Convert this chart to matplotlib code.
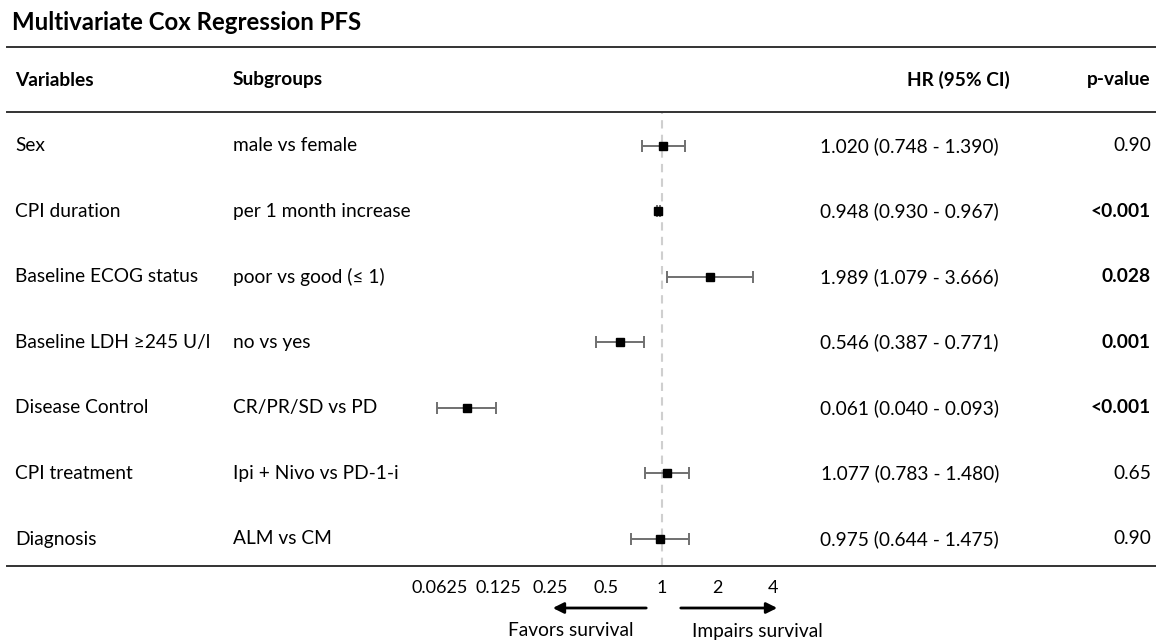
import matplotlib
matplotlib.use("Agg")
import matplotlib.pyplot as plt
from matplotlib import transforms

plt.rcParams['font.family'] = ['Lato', 'DejaVu Sans']

# data
variables = ["Sex", "CPI duration", "Baseline ECOG status", "Baseline LDH \u2265245 U/l",
             "Disease Control", "CPI treatment", "Diagnosis"]
subgroups = ["male vs female", "per 1 month increase", "poor vs good (\u2264 1)", "no vs yes",
             "CR/PR/SD vs PD", "Ipi + Nivo vs PD-1-i", "ALM vs CM"]
hr = [1.020, 0.948, 1.989, 0.546, 0.061, 1.077, 0.975]
ci_low = [0.748, 0.930, 1.079, 0.387, 0.040, 0.783, 0.644]
ci_high = [1.390, 0.967, 3.666, 0.771, 0.093, 1.480, 1.475]
pvals = ["0.90", "<0.001", "0.028", "0.001", "<0.001", "0.65", "0.90"]
p_bold = [False, True, True, True, True, False, False]
tick_vals = [0.0625, 0.125, 0.25, 0.5, 1, 2, 4]
tick_labels = ["0.0625", "0.125", "0.25", "0.5", "1", "2", "4"]

W, H = 1156, 642
fig = plt.figure(figsize=(W / 100, H / 100), dpi=100)
fx = lambda px: px / W
fy = lambda py: 1 - py / H

# forest panel, pixels 400..800 wide, 112..566 tall
pos = [fx(400), fy(566), fx(800) - fx(400), fy(112) - fy(566)]
ax = fig.add_axes(pos)
ax.set_xscale("log", base=2)
ax.set_xlim(2 ** ((400 - 662) / 48.4), 2 ** ((800 - 662) / 48.4))
n = len(hr)
ax.set_ylim((566 - 146) / 65.5, (112 - 146) / 65.5)
ax.axis("off")

ax.axvline(1, color="#cfcfcf", lw=1.5, ls=(0, (4, 3)), zorder=1)
rows = list(range(n))
err = [[h - l for h, l in zip(hr, ci_low)], [u - h for h, u in zip(hr, ci_high)]]
ax.errorbar(hr, rows, xerr=err, fmt="none", ecolor="#707070", elinewidth=1.4,
            capsize=4, capthick=1.4, zorder=2)
ax.plot(hr, rows, "s", color="black", ms=6.3, zorder=3)

# tick labels on their own axis
tax = fig.add_axes(pos, frameon=False)
tax.set_xscale("log", base=2)
tax.set_xlim(2 ** ((400 - 662) / 55.7), 2 ** ((800 - 662) / 55.7))
tax.set_xticks(tick_vals)
tax.set_xticklabels(tick_labels, fontsize=13)
tax.minorticks_off()
tax.tick_params(axis="x", length=0, pad=10)
tax.set_yticks([])
tax.patch.set_alpha(0)
# small nudge so the two leftmost labels don't touch
lbl = tax.get_xticklabels()[1]
lbl.set_transform(lbl.get_transform() + transforms.ScaledTranslation(4 / 100, 0, fig.dpi_scale_trans))

# table text
tr = transforms.blended_transform_factory(fig.transFigure, ax.transData)
fs = 13.8
for i in rows:
    ax.text(fx(15), i, variables[i], transform=tr, fontsize=fs, va="center", ha="left")
    ax.text(fx(233), i, subgroups[i], transform=tr, fontsize=fs, va="center", ha="left")
    ax.text(fx(999), i, f"{hr[i]:.3f} ({ci_low[i]:.3f} - {ci_high[i]:.3f})", transform=tr,
            fontsize=fs, va="center", ha="right")
    ax.text(fx(1151), i, pvals[i], transform=tr, fontsize=fs, va="center", ha="right",
            fontweight="bold" if p_bold[i] else "normal")

fig.text(fx(12), fy(23), "Multivariate Cox Regression PFS", fontsize=17.3, fontweight="bold",
         va="center", ha="left")
hy = fy(80)
fig.text(fx(15), hy, "Variables", fontsize=fs, fontweight="bold", va="center")
fig.text(fx(233), hy, "Subgroups", fontsize=fs, fontweight="bold", va="center")
fig.text(fx(1010), hy, "HR (95% CI)", fontsize=fs, fontweight="bold", va="center", ha="right")
fig.text(fx(1151), hy, "p-value", fontsize=fs, fontweight="bold", va="center", ha="right")

for py in (47, 112, 566):
    fig.add_artist(plt.Line2D([fx(7), fx(1156)], [fy(py), fy(py)], color="#333333", lw=1.4))

# direction arrows
fig.add_artist(matplotlib.patches.FancyArrowPatch((fx(649), fy(608)), (fx(550), fy(608)),
               transform=fig.transFigure, arrowstyle="-|>", mutation_scale=16, lw=2, color="black"))
fig.add_artist(matplotlib.patches.FancyArrowPatch((fx(678), fy(608)), (fx(780), fy(608)),
               transform=fig.transFigure, arrowstyle="-|>", mutation_scale=16, lw=2, color="black"))
fig.text(fx(634), fy(631), "Favors survival", fontsize=fs, ha="right", va="center")
fig.text(fx(692), fy(631), "Impairs survival", fontsize=fs, ha="left", va="center")

fig.savefig("out.png", dpi=100, facecolor="white")
